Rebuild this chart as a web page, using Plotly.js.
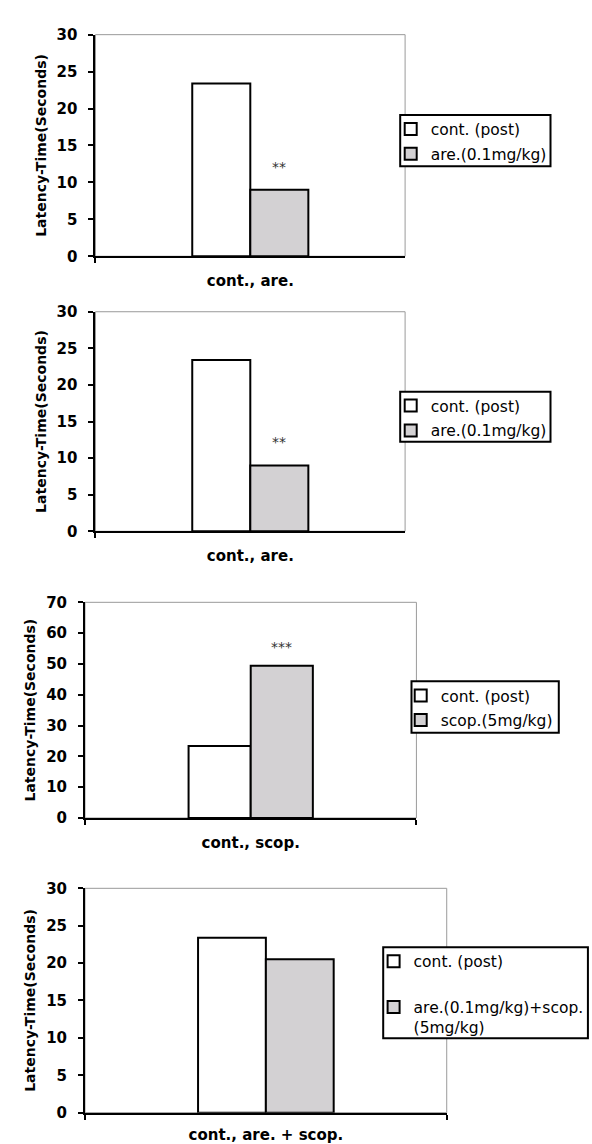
<!DOCTYPE html>
<html>
<head>
<meta charset="utf-8">
<script src="https://cdn.plot.ly/plotly-3.0.1.min.js"></script>
<style>
html,body{margin:0;padding:0;background:#fff;}
#chart{width:592px;height:1144px;}
</style>
</head>
<body>
<div id="chart"></div>
<script>
// ---- data ----
const categories1 = ['cont., are.'];
const categories2 = ['cont., are.'];
const categories3 = ['cont., scop.'];
const categories4 = ['cont., are. + scop.'];

const controlName = 'cont. (post)';
const treatName1 = 'are.(0.1mg/kg)';
const treatName2 = 'are.(0.1mg/kg)';
const treatName3 = 'scop.(5mg/kg)';
const treatName4 = 'are.(0.1mg/kg)+scop.<br>(5mg/kg)';

const control1 = [23.4];
const treat1 = [9.0];
const control2 = [23.4];
const treat2 = [9.0];
const control3 = [23.4];
const treat3 = [49.4];
const control4 = [23.4];
const treat4 = [20.5];

const sig1 = ['**'];
const sig2 = ['**'];
const sig3 = ['***'];
const sig4 = [''];

const yTicks30 = [0, 5, 10, 15, 20, 25, 30];
const yTicks70 = [0, 10, 20, 30, 40, 50, 60, 70];
const yTitle = 'Latency-Time(Seconds)';

// ---- styling ----
const BARGAP = 0.625;
const FONT = 'DejaVu Sans';
const lineStyle = {color: '#000', width: 2};

function bar(x, y, name, color, xa, ya, leg, grp) {
  return {
    type: 'bar', x: x, y: y, name: name,
    xaxis: xa, yaxis: ya, legend: leg, legendgroup: grp,
    marker: {color: color, line: lineStyle},
    hoverinfo: 'skip'
  };
}

const traces = [
  bar(categories1, control1, controlName, '#ffffff', 'x', 'y', 'legend', 'a1'),
  bar(categories1, treat1, treatName1, '#d3d1d3', 'x', 'y', 'legend', 'b1'),
  bar(categories2, control2, controlName, '#ffffff', 'x2', 'y2', 'legend2', 'a2'),
  bar(categories2, treat2, treatName2, '#d3d1d3', 'x2', 'y2', 'legend2', 'b2'),
  bar(categories3, control3, controlName, '#ffffff', 'x3', 'y3', 'legend3', 'a3'),
  bar(categories3, treat3, treatName3, '#d3d1d3', 'x3', 'y3', 'legend3', 'b3'),
  bar(categories4, control4, controlName, '#ffffff', 'x4', 'y4', 'legend4', 'a4'),
  bar(categories4, treat4, treatName4, '#d3d1d3', 'x4', 'y4', 'legend4', 'b4')
];

function xAxis(domain, anchor, standoff) {
  return {
    domain: domain, anchor: anchor, type: 'category',
    showgrid: false, zeroline: false,
    showline: true, linecolor: '#000', linewidth: 2,
    ticks: 'outside', tickson: 'boundaries', ticklen: 5, tickwidth: 2, tickcolor: '#000',
    ticklabelstandoff: standoff,
    tickfont: {family: FONT, size: 15, color: '#000', weight: 'bold'},
    fixedrange: true
  };
}
function yAxis(domain, anchor, ticks) {
  return {
    domain: domain, anchor: anchor,
    range: [ticks[0], ticks[ticks.length - 1]],
    tickvals: ticks, ticktext: ticks.map(String),
    showgrid: false, zeroline: false,
    showline: true, linecolor: '#000', linewidth: 2,
    ticks: 'outside', ticklen: 5, tickwidth: 2, tickcolor: '#000',
    ticklabelstandoff: 8,
    tickfont: {family: FONT, size: 15, color: '#000', weight: 'bold'},
    title: {text: yTitle, standoff: 7,
            font: {family: FONT, size: 14, color: '#000', weight: 'bold'}},
    fixedrange: true
  };
}
function frame(xa, ya) {
  return {type: 'rect', xref: xa + ' domain', yref: ya + ' domain',
          x0: 0, x1: 1, y0: 0, y1: 1, layer: 'below',
          line: {color: '#9a9a9a', width: 1}, fillcolor: 'rgba(0,0,0,0)'};
}
// legend frame (decoration drawn behind the legend entries)
function legendFrame(x0, x1, y0, y1) {
  return {type: 'rect', xref: 'paper', yref: 'paper',
          x0: x0, x1: x1, y0: y0, y1: y1, layer: 'above',
          line: {color: '#000', width: 2}, fillcolor: '#fff'};
}
function legendBox(x, y, gap) {
  return {
    x: x, y: y, xanchor: 'left', yanchor: 'top',
    bgcolor: 'rgba(0,0,0,0)', borderwidth: 0,
    font: {family: FONT, size: 15.5, color: '#000'},
    traceorder: 'grouped', tracegroupgap: gap, valign: 'top'
  };
}
// significance stars placed over the second bar of the group
function stars(sig, values, xa, ya, yshift) {
  const off = (1 - BARGAP) / 4;
  return sig.map((s, i) => ({
    xref: xa, yref: ya, x: i + off, y: values[i], text: s,
    showarrow: false, yanchor: 'bottom', yshift: yshift,
    font: {family: FONT, size: 14, color: '#333'}
  })).filter(a => a.text !== '');
}

const layout = {
  width: 592, height: 1144,
  margin: {l: 0, r: 0, t: 0, b: 0},
  paper_bgcolor: '#fff', plot_bgcolor: '#fff',
  barmode: 'group', bargap: BARGAP, bargroupgap: 0,
  xaxis: xAxis([0.1613, 0.6843], 'y', 10),
  yaxis: yAxis([0.7760, 0.9697], 'x', yTicks30),
  xaxis2: xAxis([0.1613, 0.6843], 'y2', 10),
  yaxis2: yAxis([0.5356, 0.7275], 'x2', yTicks30),
  xaxis3: xAxis([0.1436, 0.7034], 'y3', 10),
  yaxis3: yAxis([0.2850, 0.4735], 'x3', yTicks70),
  xaxis4: xAxis([0.1436, 0.7546], 'y4', 7),
  yaxis4: yAxis([0.0274, 0.2235], 'x4', yTicks30),
  legend: legendBox(390.7 / 592, 1 - 112.3 / 1144, 1.7),
  legend2: legendBox(390.7 / 592, 1 - 389 / 1144, 1.7),
  legend3: legendBox(400.7 / 592, 1 - 679 / 1144, 1.3),
  legend4: legendBox(373.6 / 592, 1 - 944.7 / 1144, 22.5),
  shapes: [
    frame('x', 'y'), frame('x2', 'y2'), frame('x3', 'y3'), frame('x4', 'y4'),
    legendFrame(0.6760, 0.9299, 0.8546, 0.8995),
    legendFrame(0.6760, 0.9299, 0.6139, 0.6576),
    legendFrame(0.6951, 0.9439, 0.3595, 0.4045),
    legendFrame(0.6473, 0.9931, 0.0924, 0.1719)
  ],
  annotations: [].concat(
    stars(sig1, treat1, 'x', 'y', 13),
    stars(sig2, treat2, 'x2', 'y2', 13),
    stars(sig3, treat3, 'x3', 'y3', 9),
    stars(sig4, treat4, 'x4', 'y4', 9)
  ),
  showlegend: true
};

Plotly.newPlot('chart', traces, layout, {displayModeBar: false, staticPlot: true});
</script>
</body>
</html>
